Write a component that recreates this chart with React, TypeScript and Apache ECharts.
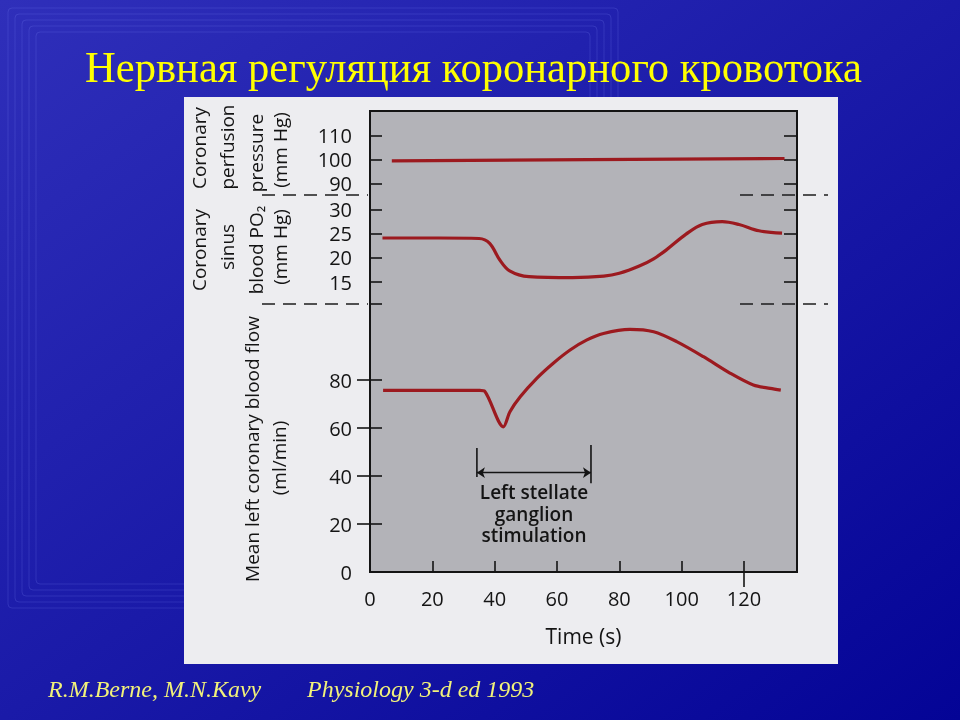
import React, { useEffect, useRef } from "react";
import * as echarts from "echarts";

// ---- data ----
const timeLabels = [0, 20, 40, 60, 80, 100, 120];
const timeTicks = [20, 40, 60, 80, 100, 120];
const pressureTicks = [90, 100, 110];
const po2Ticks = [15, 20, 25, 30];
const flowLabels = [0, 20, 40, 60, 80];
const flowTicks = [20, 40, 60, 80];

// time (s), coronary perfusion pressure (mm Hg)
const pressureSeries = [
  [7, 99.6],
  [70, 100.1],
  [133, 100.6],
];

// time (s), coronary sinus blood PO2 (mm Hg)
const po2Series = [
  [4, 24.1], [22, 24.1], [35, 24], [38.4, 23], [41.6, 19.6], [44.8, 17.3],
  [51, 16.1], [65, 15.9], [75, 16.2], [80, 16.8], [86.4, 18.3], [91, 19.8],
  [95, 21.6], [101.4, 24.9], [106.6, 26.9], [113, 27.5], [118.4, 26.9],
  [124.8, 25.6], [132.2, 25.1],
];

// time (s), mean left coronary blood flow (ml/min)
const flowSeries = [
  [4.2, 75.7], [20, 75.7], [35.2, 75.7], [36.8, 75.3], [42.8, 60.5], [44.9, 66.8],
  [48.2, 73], [53.5, 80.7], [58.8, 87], [64.2, 92.5], [69.6, 96.7], [74.9, 99.4],
  [83.4, 101.1], [91, 100.1], [98.4, 96], [107, 89.7], [115.6, 82.8],
  [123, 77.9], [128.4, 76.5], [131.8, 75.8],
];

// stimulation period (s)
const stimStart = 34.3;
const stimEnd = 70.9;
const stimLeftBar = [[stimStart, 39.6], [stimStart, 51.7]];
const stimRightBar = [[stimEnd, 37], [stimEnd, 52.9]];
const stimArrowLevel = 41.4;
const stimLines = ["Left stellate", "ganglion", "stimulation"];

const AX_FONT = "'Open Sans', 'DejaVu Sans', sans-serif";
const LINE_COLOR = "#9c1a1f";
const INK = "#141414";

function yNameText(text: string, x: number, y: number) {
  return {
    type: "text",
    x,
    y,
    rotation: Math.PI / 2,
    z: 10,
    style: {
      text,
      fill: INK,
      font: `19px ${AX_FONT}`,
      align: "center",
      verticalAlign: "middle",
    },
  };
}

function dashed(x1: number, x2: number, y: number) {
  return {
    type: "line",
    z: 5,
    shape: { x1, y1: y, x2, y2: y },
    style: { stroke: "#1c1c1c", lineWidth: 1.6, lineDash: [13, 8] },
  };
}

export default function App() {
  const ref = useRef<HTMLDivElement>(null);

  useEffect(() => {
    if (!ref.current) return;
    const chart = echarts.init(ref.current, null, { renderer: "svg" });

    const decoRects = [0, 1, 2, 3, 4].map((i) => ({
      type: "rect",
      z: -90,
      shape: { x: 8 + i * 7, y: 8 + i * 6, width: 610 - i * 14, height: 600 - i * 12, r: 4 },
      style: { fill: "none", stroke: "rgba(140,150,255,0.18)", lineWidth: 1 },
    }));

    const stimTexts = stimLines.map((t, i) => ({
      type: "text",
      x: 534,
      y: 492 + i * 21.5,
      z: 10,
      style: {
        text: t,
        fill: INK,
        font: `600 19px ${AX_FONT}`,
        align: "center",
        verticalAlign: "middle",
      },
    }));

    const yAxisCommon = {
      type: "value",
      splitLine: { show: false },
      axisLine: { show: false },
    };
    const tickStyle = { color: INK, width: 1.6 };
    const labelStyle = { margin: 18, color: INK, fontSize: 20, fontFamily: AX_FONT };

    const option: any = {
      animation: false,
      graphic: [
        {
          type: "rect",
          z: -100,
          shape: { x: 0, y: 0, width: 960, height: 720 },
          style: {
            fill: new echarts.graphic.LinearGradient(0, 0, 1, 1, [
              { offset: 0, color: "#2f2fba" },
              { offset: 0.5, color: "#1a1aa8" },
              { offset: 1, color: "#040496" },
            ]),
          },
        },
        ...decoRects,
        {
          type: "rect",
          z: -50,
          shape: { x: 184, y: 97, width: 654, height: 567 },
          style: { fill: "#ededf0" },
        },
        {
          type: "rect",
          z: -40,
          shape: { x: 370, y: 111, width: 427, height: 461 },
          style: { fill: "#b3b3b8", stroke: INK, lineWidth: 2 },
        },
        dashed(262, 368, 195),
        dashed(740, 828, 195),
        dashed(262, 368, 304),
        dashed(740, 828, 304),
        {
          type: "text",
          x: 85,
          y: 67,
          scaleX: 0.947,
          z: 10,
          style: {
            text: "Нервная регуляция коронарного кровотока",
            fill: "#ffff00",
            font: "45px 'Liberation Serif', 'Times New Roman', serif",
            align: "left",
            verticalAlign: "middle",
          },
        },
        {
          type: "text",
          x: 48,
          y: 689,
          z: 10,
          style: {
            text: "R.M.Berne, M.N.Kavy",
            fill: "#f2f27a",
            font: "italic 24px 'Liberation Serif', 'Times New Roman', serif",
            align: "left",
            verticalAlign: "middle",
          },
        },
        {
          type: "text",
          x: 307,
          y: 689,
          z: 10,
          style: {
            text: "Physiology 3-d ed 1993",
            fill: "#f2f27a",
            font: "italic 24px 'Liberation Serif', 'Times New Roman', serif",
            align: "left",
            verticalAlign: "middle",
          },
        },
        yNameText("Coronary", 199, 148),
        yNameText("perfusion", 227, 147),
        yNameText("pressure", 256, 153),
        yNameText("(mm Hg)", 280, 150),
        yNameText("Coronary", 199, 250),
        yNameText("sinus", 227, 247),
        yNameText("blood PO₂", 256, 250),
        yNameText("(mm Hg)", 280, 247),
        yNameText("Mean left coronary blood flow", 252, 449),
        yNameText("(ml/min)", 279, 458),
        ...stimTexts,
      ],
      grid: [
        { left: 370, top: 111, width: 427, height: 84 },
        { left: 370, top: 195, width: 427, height: 109 },
        { left: 370, top: 304, width: 427, height: 268 },
      ],
      xAxis: [
        { gridIndex: 0, type: "value", min: 0, max: 137, show: false },
        { gridIndex: 1, type: "value", min: 0, max: 137, show: false },
        {
          gridIndex: 2,
          type: "value",
          min: 0,
          max: 137,
          name: "Time (s)",
          nameLocation: "middle",
          nameGap: 53,
          nameTextStyle: { color: INK, fontSize: 21, fontFamily: AX_FONT },
          axisLine: { show: false },
          splitLine: { show: false },
          axisTick: { show: true, inside: true, length: 11, customValues: timeTicks, lineStyle: tickStyle },
          axisLabel: { ...labelStyle, customValues: timeLabels, margin: 16 },
        },
        {
          gridIndex: 2,
          type: "value",
          min: 0,
          max: 137,
          position: "bottom",
          axisLine: { show: false },
          splitLine: { show: false },
          axisLabel: { show: false },
          axisTick: { show: true, inside: false, length: 15, customValues: [120], lineStyle: tickStyle },
        },
      ],
      yAxis: [
        {
          ...yAxisCommon,
          gridIndex: 0,
          position: "left",
          min: 85.4,
          max: 120.4,
          axisTick: { show: true, inside: true, length: 12, customValues: pressureTicks, lineStyle: tickStyle },
          axisLabel: { ...labelStyle, customValues: pressureTicks },
        },
        {
          ...yAxisCommon,
          gridIndex: 0,
          position: "right",
          min: 85.4,
          max: 120.4,
          axisTick: { show: true, inside: true, length: 13, customValues: pressureTicks, lineStyle: tickStyle },
          axisLabel: { show: false },
        },
        {
          ...yAxisCommon,
          gridIndex: 1,
          position: "left",
          min: 10.45,
          max: 33.0,
          axisTick: { show: true, inside: true, length: 12, customValues: po2Ticks, lineStyle: tickStyle },
          axisLabel: { ...labelStyle, customValues: po2Ticks },
        },
        {
          ...yAxisCommon,
          gridIndex: 1,
          position: "right",
          min: 10.45,
          max: 33.0,
          axisTick: { show: true, inside: true, length: 13, customValues: po2Ticks, lineStyle: tickStyle },
          axisLabel: { show: false },
        },
        {
          ...yAxisCommon,
          gridIndex: 2,
          position: "left",
          min: 0,
          max: 111.67,
          axisTick: { show: true, inside: true, length: 12, customValues: [...flowTicks, 111.67], lineStyle: tickStyle },
          axisLabel: { ...labelStyle, customValues: flowLabels },
        },
        {
          ...yAxisCommon,
          gridIndex: 2,
          position: "right",
          min: 0,
          max: 111.67,
          axisTick: { show: true, inside: true, length: 13, customValues: flowTicks, lineStyle: tickStyle },
          axisLabel: { show: false },
        },
      ],
      series: [
        {
          name: "Coronary perfusion pressure",
          type: "line",
          xAxisIndex: 0,
          yAxisIndex: 0,
          data: pressureSeries,
          symbol: "none",
          lineStyle: { color: LINE_COLOR, width: 3.2 },
        },
        {
          name: "Coronary sinus blood PO2",
          type: "line",
          xAxisIndex: 1,
          yAxisIndex: 2,
          data: po2Series,
          symbol: "none",
          smooth: 0.35,
          lineStyle: { color: LINE_COLOR, width: 3.2 },
        },
        {
          name: "Mean left coronary blood flow",
          type: "line",
          xAxisIndex: 2,
          yAxisIndex: 4,
          data: flowSeries,
          symbol: "none",
          smooth: 0.3,
          lineStyle: { color: LINE_COLOR, width: 3.2 },
        },
        {
          type: "line",
          xAxisIndex: 2,
          yAxisIndex: 4,
          data: stimLeftBar,
          symbol: "none",
          lineStyle: { color: INK, width: 1.6 },
        },
        {
          type: "line",
          xAxisIndex: 2,
          yAxisIndex: 4,
          data: stimRightBar,
          symbol: "none",
          lineStyle: { color: INK, width: 1.6 },
        },
        {
          type: "lines",
          coordinateSystem: "cartesian2d",
          xAxisIndex: 2,
          yAxisIndex: 4,
          symbol: ["arrow", "arrow"],
          symbolSize: 8,
          lineStyle: { color: INK, width: 1.4, opacity: 1 },
          data: [{ coords: [[stimStart, stimArrowLevel], [stimEnd, stimArrowLevel]] }],
        },
      ],
    };

    chart.setOption(option);
    return () => chart.dispose();
  }, []);

  return (
    <div
      ref={ref}
      style={{ position: "fixed", left: 0, top: 0, width: 960, height: 720 }}
    />
  );
}
